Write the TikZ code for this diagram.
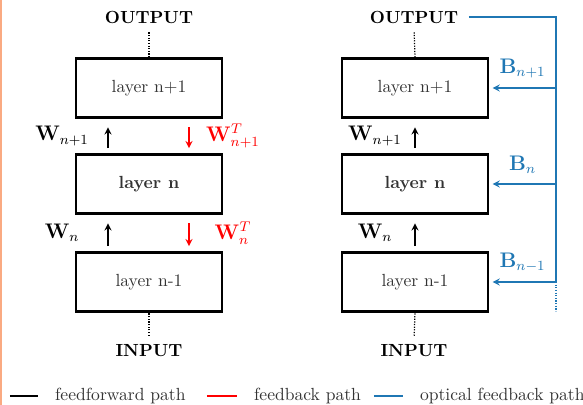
\documentclass[tikz,border=0pt]{standalone}
\usepackage{amsmath}
\usetikzlibrary{positioning}
\definecolor{optblue}{RGB}{31,119,180}
\definecolor{edgeorange}{RGB}{250,170,130}
\begin{document}
\begin{tikzpicture}[
        x=0.02cm, y=-0.02cm,
        layerbox/.style={
            draw,
            line width=1.3pt,
            minimum width=2.92cm,
            minimum height=1.18cm,
            text=black!80
        },
        endlabel/.style={
            font=\bfseries,
            inner sep=2pt
        },
        fine dots/.style={line width=0.7pt, dash pattern=on 0.7pt off 0.8pt},
        ffarrow/.style={->, >=stealth, thick},
        fbarrow/.style={->, >=stealth, thick, red},
        optarrow/.style={->, >=stealth, thick, optblue}
    ]
        \useasboundingbox (0,0) rectangle (583,405);
        \draw[edgeorange, line width=1.2pt] (0.6,0) -- (0.6,405);

        % Left stack: backpropagation
        \node[layerbox] (la) at (149,88) {layer n+1};
        \node[layerbox] (lb) at (149,184) {\textbf{layer n}};
        \node[layerbox] (lc) at (149,282) {layer n-1};
        \node[endlabel] (lout) at (149,17) {OUTPUT};
        \node[endlabel] (lin) at (149,351) {INPUT};
        \draw[fine dots, shorten <=3pt] (lout.south) -- (la.north);
        \draw[fine dots, shorten <=3pt] (lin.north) -- (lc.south);

        \draw[ffarrow, shorten <=3pt, shorten >=5pt]
            ([xshift=-0.82cm]lb.north) -- ([xshift=-0.82cm]la.south)
            node[midway, xshift=-0.92cm, text=black, font=\large] {$\mathbf{W}_{n+1}$};
        \draw[fbarrow, shorten <=5pt, shorten >=3pt]
            ([xshift=0.8cm]la.south) -- ([xshift=0.8cm]lb.north)
            node[midway, xshift=0.88cm, font=\large] {$\mathbf{W}_{n+1}^{T}$};
        \draw[ffarrow, shorten <=3pt, shorten >=5pt]
            ([xshift=-0.82cm]lc.north) -- ([xshift=-0.82cm]lb.south)
            node[midway, xshift=-0.92cm, text=black, font=\large] {$\mathbf{W}_{n}$};
        \draw[fbarrow, shorten <=5pt, shorten >=3pt]
            ([xshift=0.8cm]lb.south) -- ([xshift=0.8cm]lc.north)
            node[midway, xshift=0.88cm, font=\large] {$\mathbf{W}_{n}^{T}$};

        % Right stack: optical feedback
        \node[layerbox] (ra) at (415,88) {layer n+1};
        \node[layerbox] (rb) at (415,184) {\textbf{layer n}};
        \node[layerbox] (rc) at (415,282) {layer n-1};
        \node[endlabel] (rout) at (414,17) {OUTPUT};
        \node[endlabel] (rin) at (414,351) {INPUT};
        \draw[fine dots, shorten <=3pt] (rout.south) -- (ra.north);
        \draw[fine dots, shorten <=3pt] (rin.north) -- (rc.south);

        \draw[ffarrow, shorten <=3pt, shorten >=5pt]
            (rb.north) -- (ra.south)
            node[midway, xshift=-0.8cm, font=\large] {$\mathbf{W}_{n+1}$};
        \draw[ffarrow, shorten <=3pt, shorten >=5pt]
            (rc.north) -- (rb.south)
            node[midway, xshift=-0.8cm, font=\large] {$\mathbf{W}_{n}$};

        \coordinate (bus) at (556,282);
        \coordinate (busend) at (556,311);
        \draw[optblue, thick, shorten <=4pt] (rout.east) -| (bus);
        \draw[optblue, fine dots] (bus) -- (busend);
        \draw[optarrow, shorten >=2pt] (ra.east -| bus) -- (ra.east)
            node[midway, above=2pt, font=\large] {$\mathbf{B}_{n+1}$};
        \draw[optarrow, shorten >=2pt] (rb.east -| bus) -- (rb.east)
            node[midway, above=2pt, font=\large] {$\mathbf{B}_{n}$};
        \draw[optarrow, shorten >=2pt] (rc.east -| bus) -- (rc.east)
            node[midway, above=2pt, font=\large] {$\mathbf{B}_{n-1}$};

        % Legend
        \coordinate (ka) at (10,396);
        \coordinate (kb) at (38,396);
        \draw[thick] (ka) -- (kb) node[right=6pt, text=black!80] {feedforward path};
        \coordinate (kc) at (207,396);
        \coordinate (kd) at (237,396);
        \draw[thick, red] (kc) -- (kd) node[right=6pt, text=black!80] {feedback path};
        \coordinate (ke) at (374,396);
        \coordinate (kf) at (403,396);
        \draw[thick, optblue] (ke) -- (kf) node[right=6pt, text=black!80] {optical feedback path};
    \end{tikzpicture}
\end{document}
